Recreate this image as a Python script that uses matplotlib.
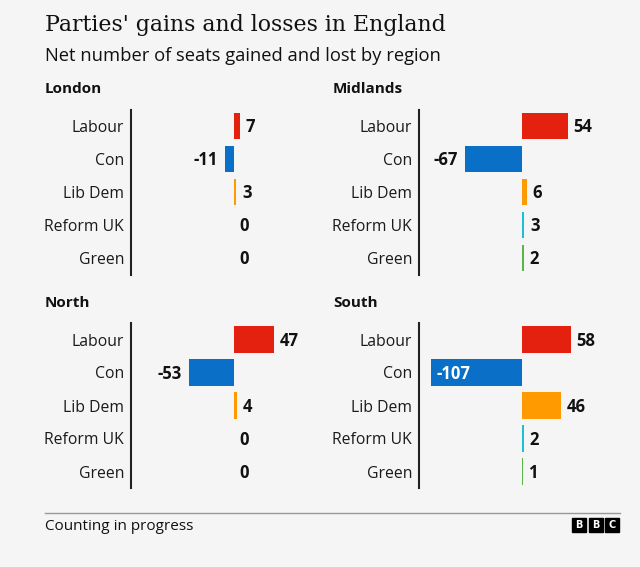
import matplotlib.pyplot as plt
from matplotlib.patches import Rectangle

# data
parties = ['Labour', 'Con', 'Lib Dem', 'Reform UK', 'Green']
london = [7, -11, 3, 0, 0]
midlands = [54, -67, 6, 3, 2]
north = [47, -53, 4, 0, 0]
south = [58, -107, 46, 2, 1]
colours = ['#E4200F', '#0A6FC6', '#FF9A00', '#1BC0D6', '#5BB34A']

W, H = 640, 567
bg = '#f5f5f5'
sans = 'Open Sans'

fig = plt.figure(figsize=(W / 100, H / 100), dpi=100, facecolor=bg)


def px_axes(x0, y0, x1, y1):
    return fig.add_axes([x0 / W, 1 - y1 / H, (x1 - x0) / W, (y1 - y0) / H])


def panel(ax, values, name, title_x, title_y):
    ax.set_facecolor(bg)
    ax.barh(range(len(parties)), values, height=0.8, color=colours)
    ax.set_xlim(-121, 89)
    ax.set_ylim(4.5, -0.5)
    ax.set_yticks(range(len(parties)))
    ax.set_yticklabels(parties, fontsize=11.3, family=sans, color='#1a1a1a')
    ax.tick_params(axis='y', length=0, pad=5)
    ax.set_xticks([])
    for s in ['top', 'right', 'bottom']:
        ax.spines[s].set_visible(False)
    ax.spines['left'].set_linewidth(1.5)
    ax.spines['left'].set_color('#222222')
    for i, v in enumerate(values):
        if v <= -100:
            ax.annotate(str(v), (v, i), xytext=(4, -1), textcoords='offset points',
                        ha='left', va='center', fontsize=12, fontweight='bold',
                        family=sans, color='white')
        elif v < 0:
            ax.annotate(str(v), (v, i), xytext=(-5, -1), textcoords='offset points',
                        ha='right', va='center', fontsize=12, fontweight='bold',
                        family=sans, color='#111111')
        else:
            ax.annotate(str(v), (v, i), xytext=(4, -1), textcoords='offset points',
                        ha='left', va='center', fontsize=12, fontweight='bold',
                        family=sans, color='#111111')
    fig.text(title_x / W, 1 - title_y / H, name, fontsize=11, fontweight='bold',
             family=sans, va='center', ha='left', color='#111111')


panel(px_axes(131, 109.5, 309.5, 274.5), london, 'London', 45, 89)
panel(px_axes(419, 109.5, 597.5, 274.5), midlands, 'Midlands', 333, 89)
panel(px_axes(131, 323, 309.5, 488), north, 'North', 45, 303)
panel(px_axes(419, 323, 597.5, 488), south, 'South', 333, 303)

fig.text(45 / W, 1 - 25 / H, "Parties' gains and losses in England", fontsize=15.8,
         family='DejaVu Serif', va='center', ha='left', color='#111111')
fig.text(45 / W, 1 - 56 / H, 'Net number of seats gained and lost by region',
         fontsize=13.2, family=sans, va='center', ha='left', color='#111111')

# footer
fig.add_artist(plt.Line2D([45 / W, 620 / W], [1 - 513 / H, 1 - 513 / H],
                          color='#999999', lw=1))
fig.text(45 / W, 1 - 527 / H, 'Counting in progress', fontsize=11, family=sans,
         va='center', ha='left', color='#111111')
for k, letter in enumerate('BBC'):
    x0 = 572 + k * 16.5
    fig.add_artist(Rectangle((x0 / W, 1 - 532 / H), 14 / W, 14 / H,
                             color='black', transform=fig.transFigure))
    fig.text((x0 + 7) / W, 1 - 525 / H, letter, fontsize=7, fontweight='bold',
             family='DejaVu Sans', color='white', ha='center', va='center')

fig.savefig('out.png', dpi=100, facecolor=bg)
